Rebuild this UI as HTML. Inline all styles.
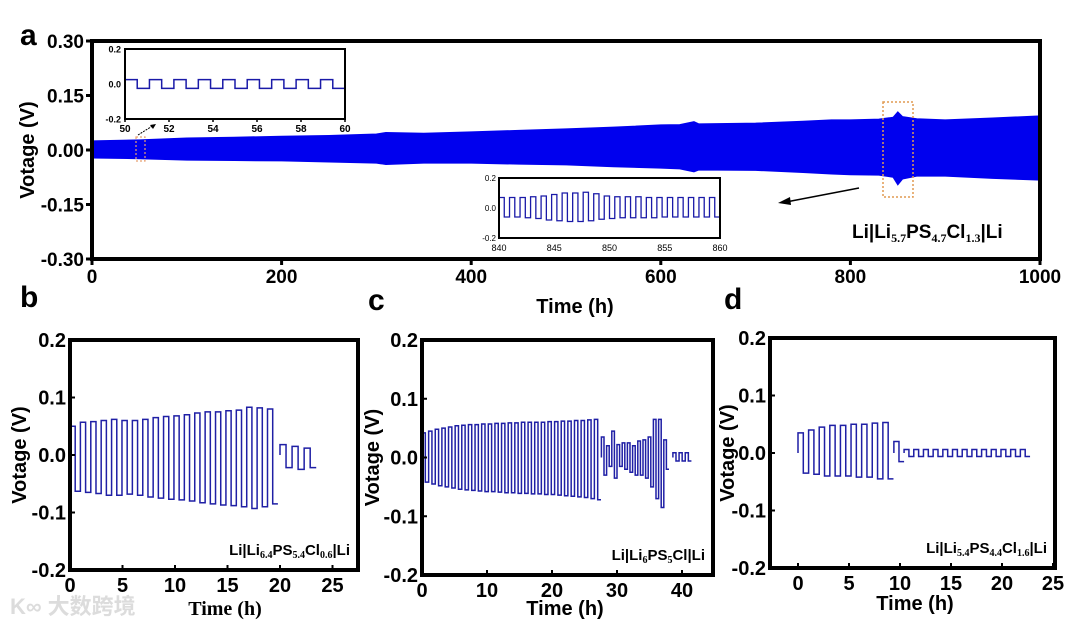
<!DOCTYPE html>
<html><head><meta charset="utf-8"><style>
body{margin:0;background:#fff;}
svg{display:block;font-family:"Liberation Sans",Arial,sans-serif;font-weight:bold;}
</style></head><body>
<svg id="fig" width="1068" height="626" viewBox="0 0 1068 626" xmlns="http://www.w3.org/2000/svg">
<g id="root"></g>
</svg>
<script>
// ---- Panel a data (envelope of cycling band) ----
const bandT = [0,50,100,150,200,250,300,310,350,400,450,500,550,600,620,635,640,700,750,780,800,830,845,850,855,870,900,950,1000];
const bandUpper = [0.025,0.028,0.033,0.035,0.038,0.040,0.044,0.048,0.046,0.050,0.054,0.058,0.063,0.069,0.070,0.078,0.072,0.074,0.079,0.083,0.083,0.085,0.090,0.105,0.092,0.086,0.083,0.088,0.094];
const bandLower = [-0.022,-0.024,-0.028,-0.029,-0.030,-0.033,-0.036,-0.040,-0.036,-0.036,-0.039,-0.041,-0.046,-0.050,-0.052,-0.060,-0.055,-0.056,-0.062,-0.066,-0.068,-0.069,-0.075,-0.096,-0.080,-0.072,-0.072,-0.078,-0.083];
const aXTicks = [0,200,400,600,800,1000];
const aYTicks = ["0.30","0.15","0.00","-0.15","-0.30"];
// inset 1 (50-60 h)
const in1High = [0.025,0.025,0.025,0.025,0.025,0.025,0.025,0.025,0.025];
const in1Low = [-0.025,-0.025,-0.025,-0.025,-0.025,-0.025,-0.025,-0.025,-0.025];
const in1XTicks = [50,52,54,56,58,60];
// inset 2 (840-860 h)
const in2High = [0.07,0.07,0.07,0.075,0.08,0.09,0.1,0.1,0.105,0.095,0.08,0.075,0.075,0.075,0.07,0.07,0.07,0.07,0.07,0.07,0.07];
const in2Low = [-0.06,-0.06,-0.065,-0.07,-0.08,-0.085,-0.09,-0.09,-0.085,-0.075,-0.07,-0.065,-0.065,-0.065,-0.065,-0.06,-0.06,-0.06,-0.06,-0.06,-0.06];
const in2XTicks = [840,845,850,855,860];
// ---- Panel b ----
const bHigh1 = [0.05,0.057,0.058,0.06,0.062,0.06,0.06,0.062,0.065,0.067,0.068,0.07,0.073,0.075,0.075,0.077,0.078,0.083,0.082,0.08];
const bLow1 = [-0.063,-0.065,-0.067,-0.07,-0.07,-0.068,-0.07,-0.073,-0.075,-0.077,-0.078,-0.08,-0.083,-0.085,-0.087,-0.088,-0.09,-0.093,-0.09,-0.085];
const bHigh2 = [0.018,0.015,0.012];
const bLow2 = [-0.022,-0.025,-0.022];
const bXTicks = [0,5,10,15,20,25];
// ---- Panel c ----
const cHigh1 = [0.042,0.045,0.048,0.05,0.052,0.054,0.055,0.056,0.056,0.057,0.057,0.058,0.058,0.059,0.059,0.06,0.06,0.06,0.06,0.061,0.061,0.062,0.062,0.063,0.063,0.064,0.065];
const cLow1 = [-0.042,-0.045,-0.048,-0.05,-0.052,-0.054,-0.055,-0.056,-0.057,-0.058,-0.058,-0.059,-0.06,-0.06,-0.061,-0.061,-0.062,-0.062,-0.063,-0.063,-0.064,-0.065,-0.066,-0.067,-0.068,-0.07,-0.072];
const cHigh2 = [0.035,0.02,0.045,0.022,0.025,0.025,0.02,0.028,0.03,0.035,0.065,0.065,0.03];
const cLow2 = [-0.03,-0.015,-0.035,-0.015,-0.02,-0.025,-0.03,-0.03,-0.035,-0.05,-0.07,-0.085,-0.02];
const cHigh3 = [0.008,0.008,0.008];
const cLow3 = [-0.006,-0.006,-0.006];
const cXTicks = [0,10,20,30,40];
// ---- Panel d ----
const dHigh1 = [0.035,0.04,0.045,0.048,0.048,0.05,0.05,0.052,0.053];
const dLow1 = [-0.035,-0.037,-0.04,-0.04,-0.04,-0.042,-0.042,-0.045,-0.045];
const dHigh2 = [0.02];
const dLow2 = [-0.015];
const dHigh3 = [0.006,0.006,0.006,0.006,0.006,0.006,0.006,0.006,0.006,0.006,0.006,0.006,0.006];
const dLow3 = [-0.006,-0.006,-0.006,-0.006,-0.006,-0.006,-0.006,-0.006,-0.006,-0.006,-0.006,-0.006,-0.006];
const dXTicks = [0,5,10,15,20,25];
const smallYTicks = ["0.2","0.1","0.0","-0.1","-0.2"];

const NS="http://www.w3.org/2000/svg";
const root=document.getElementById('root');
function mk(tag,attrs,parent,text){const e=document.createElementNS(NS,tag);for(const k in attrs)e.setAttribute(k,attrs[k]);if(text!==undefined)e.textContent=text;(parent||root).appendChild(e);return e;}
function lin(d0,d1,r0,r1){return v=>r0+(v-d0)*(r1-r0)/(d1-d0);}
function wave(xs,ys,t0,period,highs,lows){
  let d="M"+xs(t0)+","+ys(0);
  for(let i=0;i<highs.length;i++){const t=t0+i*period;
    d+=" L"+xs(t)+","+ys(highs[i])+" L"+xs(t+period/2)+","+ys(highs[i])+" L"+xs(t+period/2)+","+ys(lows[i])+" L"+xs(t+period)+","+ys(lows[i]);}
  return d;
}
function frame(x0,y0,x1,y1,w,name){const r=mk('rect',{x:x0,y:y0,width:x1-x0,height:y1-y0,fill:'none',stroke:'#000','stroke-width':w});}

// ===== Panel a =====
const ax=lin(0,1000,92,1040), ay=lin(-0.3,0.3,259,41);
let bp="M"+ax(bandT[0])+","+ay(bandUpper[0]);
for(let i=1;i<bandT.length;i++)bp+=" L"+ax(bandT[i])+","+ay(bandUpper[i]);
for(let i=bandT.length-1;i>=0;i--)bp+=" L"+ax(bandT[i])+","+ay(bandLower[i]);
const band=mk('path',{d:bp+"Z",fill:'#0000ee',stroke:'#0000ee','stroke-width':1});


frame(92,41,1040,259,4,'panel-a-frame');
aXTicks.forEach(v=>{mk('line',{x1:ax(v),x2:ax(v),y1:259,y2:265,stroke:'#000','stroke-width':3});
 const t=mk('text',{x:ax(v),y:283,'text-anchor':'middle','font-size':19},root,String(v));});
aYTicks.forEach(s=>{const v=parseFloat(s);mk('line',{x1:86,x2:92,y1:ay(v),y2:ay(v),stroke:'#000','stroke-width':3});
 const t=mk('text',{x:84,y:ay(v)+7,'text-anchor':'end','font-size':19},root,s);});
// dashed boxes and arrows
mk('rect',{x:136,y:137,width:9,height:24,fill:'none',stroke:'#e8a070','stroke-width':1.2,'stroke-dasharray':'2,2'});
mk('rect',{x:883,y:102,width:30,height:95,fill:'none',stroke:'#e09a50','stroke-width':1.5,'stroke-dasharray':'2,2'});
mk('line',{x1:138,y1:135,x2:154,y2:125,stroke:'#000','stroke-width':1,'stroke-dasharray':'2,1'});
mk('path',{d:'M156,124 L150,125 L153,129Z',fill:'#000'});
mk('line',{x1:859,y1:188,x2:786,y2:202,stroke:'#000','stroke-width':1.5});
mk('path',{d:'M778,203 L790,197 L791,205Z',fill:'#000'});
const la=mk('text',{x:852,y:238,'font-size':19},root);
la.innerHTML='Li|Li<tspan font-size="12" font-family="Liberation Serif" dy="4">5.7</tspan><tspan dy="-4">PS</tspan><tspan font-size="12" font-family="Liberation Serif" dy="4">4.7</tspan><tspan dy="-4">Cl</tspan><tspan font-size="12" font-family="Liberation Serif" dy="4">1.3</tspan><tspan dy="-4">|Li</tspan>';
// inset 1
const i1x=lin(50,60,125,345), i1y=lin(-0.2,0.2,119,49);
mk('rect',{x:125,y:49,width:220,height:70,fill:'#fff'});
const w1=mk('path',{d:wave(i1x,i1y,50,10/9,in1High,in1Low),fill:'none',stroke:'#1a1aa8','stroke-width':1.5});

frame(125,49,345,119,2,'inset-50h-frame');
in1XTicks.forEach(v=>{mk('line',{x1:i1x(v),x2:i1x(v),y1:119,y2:122,stroke:'#000','stroke-width':1.5});mk('text',{x:i1x(v),y:132,'text-anchor':'middle','font-size':10},root,String(v));});
["0.2","0.0","-0.2"].forEach(s=>{const v=parseFloat(s);mk('text',{x:121,y:i1y(v)+3.5,'text-anchor':'end','font-size':9},root,s);});
// inset 2
const i2x=lin(840,860,499,720), i2y=lin(-0.2,0.2,238,178);
mk('rect',{x:499,y:178,width:221,height:60,fill:'#fff'});
const w2=mk('path',{d:wave(i2x,i2y,840,20/21,in2High,in2Low),fill:'none',stroke:'#1a1aa8','stroke-width':1.3});

frame(499,178,720,238,2,'inset-850h-frame');
in2XTicks.forEach(v=>{mk('text',{x:i2x(v),y:251,'text-anchor':'middle','font-size':9,'font-weight':'normal'},root,String(v));});
["0.2","0.0","-0.2"].forEach(s=>{const v=parseFloat(s);mk('text',{x:496,y:i2y(v)+3,'text-anchor':'end','font-size':8,'font-weight':'normal'},root,s);});
// titles
mk('text',{x:575,y:313,'text-anchor':'middle','font-size':20},root,'Time (h)');
mk('text',{x:0,y:0,'text-anchor':'middle','font-size':20,transform:'translate(34,150) rotate(-90)'},root,'Votage (V)');
mk('text',{x:20,y:45,'font-size':30},root,'a');
mk('text',{x:20,y:307,'font-size':30},root,'b');
mk('text',{x:368,y:310,'font-size':30},root,'c');
mk('text',{x:724,y:309,'font-size':30},root,'d');

// ===== Small panels =====
function small(p){
  const xs=lin(0,p.xmax,p.x0,p.xEnd), ys=lin(-0.2,0.2,p.y1,p.y0);
  p.segs.forEach((s,k)=>{const e=mk('path',{d:wave(xs,ys,s[0],s[1],s[2],s[3]),fill:'none',stroke:'#1f1fa5','stroke-width':1.5});
    });
  frame(p.fx0,p.y0,p.fx1,p.y1,4,p.id+'-frame');
  p.xt.forEach(v=>{mk('line',{x1:xs(v),x2:xs(v),y1:p.y1,y2:p.y1-5,stroke:'#000','stroke-width':2});
    const t=mk('text',{x:xs(v),y:p.y1+22,'text-anchor':'middle','font-size':20},root,String(v));});
  smallYTicks.forEach(s=>{const v=parseFloat(s);mk('line',{x1:p.fx0,x2:p.fx0+5,y1:ys(v),y2:ys(v),stroke:'#000','stroke-width':2});
    const t=mk('text',{x:p.fx0-4,y:ys(v)+7,'text-anchor':'end','font-size':20},root,s);});
  mk('text',{x:0,y:0,'text-anchor':'middle','font-size':20,transform:'translate('+p.ytx+','+((p.y0+p.y1)/2)+') rotate(-90)'},root,'Votage (V)');
  const tt=mk('text',{x:p.ttx,y:p.tty,'text-anchor':'middle','font-size':20,'font-family':p.serif?'Liberation Serif':'Liberation Sans'},root,'Time (h)');
  const lb=mk('text',{x:p.fx1-8,y:p.y1-15,'text-anchor':'end','font-size':15},root);lb.innerHTML=p.label;
}
const sub=(t)=>'<tspan font-size="10" font-family="Liberation Serif" dy="3">'+t+'</tspan>';
small({id:'panel-b',xmax:20,x0:70,xEnd:280,fx0:70,fx1:358,y0:340,y1:570,xt:bXTicks,ytx:26,ttx:225,tty:615,serif:true,
  segs:[[0,0.99,bHigh1,bLow1],[20.0,1.15,bHigh2,bLow2]],
  label:'Li|Li'+sub('6.4')+'<tspan dy="-3">PS</tspan>'+sub('5.4')+'<tspan dy="-3">Cl</tspan>'+sub('0.6')+'<tspan dy="-3">|Li</tspan>'});
small({id:'panel-c',xmax:40,x0:422,xEnd:682,fx0:422,fx1:713,y0:340,y1:575,xt:cXTicks,ytx:379,ttx:565,tty:615,serif:false,
  segs:[[0,1.02,cHigh1,cLow1],[27.6,0.8,cHigh2,cLow2],[38.6,0.95,cHigh3,cLow3]],
  label:'Li|Li'+sub('6')+'<tspan dy="-3">PS</tspan>'+sub('5')+'<tspan dy="-3">Cl|Li</tspan>'});
small({id:'panel-d',xmax:25,x0:798,xEnd:1053,fx0:770,fx1:1055,y0:338,y1:568,xt:dXTicks,ytx:734,ttx:915,tty:610,serif:false,
  segs:[[0,1.04,dHigh1,dLow1],[9.4,1.0,dHigh2,dLow2],[10.4,0.95,dHigh3,dLow3]],
  label:'Li|Li'+sub('5.4')+'<tspan dy="-3">PS</tspan>'+sub('4.4')+'<tspan dy="-3">Cl</tspan>'+sub('1.6')+'<tspan dy="-3">|Li</tspan>'});
const wm=mk('text',{x:10,y:614,'font-size':22,fill:'#dcdcdc','font-family':'"Liberation Sans","Noto Sans CJK SC",sans-serif'},root,'K∞ 大数跨境');

</script>
</body></html>
